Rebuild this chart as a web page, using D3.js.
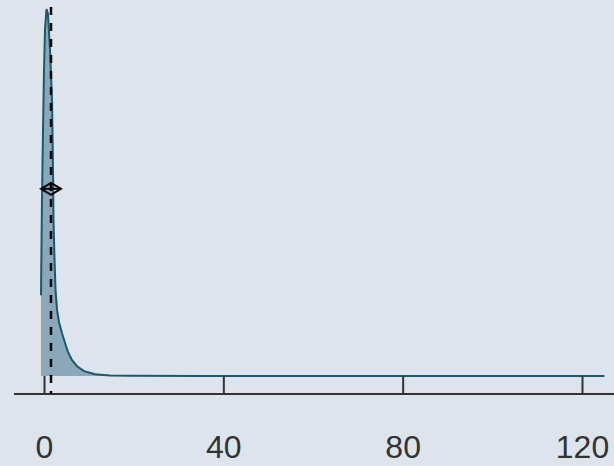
<!DOCTYPE html>
<html>
<head>
<meta charset="utf-8">
<script src="https://cdn.jsdelivr.net/npm/d3@7"></script>
<style>
  body { margin: 0; background: #dde4eb; overflow: hidden; }
  svg { display: block; }
</style>
</head>
<body>
<script>
// kernel density estimate
var xs = [-0.67, -0.45, -0.22, 0.0, 0.22, 0.56, 0.89, 1.34, 1.79, 2.01, 2.12, 2.35, 2.57, 2.91, 3.35, 4.02, 4.69, 5.36, 6.26, 7.37, 8.94, 11.4, 14.7, 19.2, 35, 125];
var dens = [0.132, 0.288, 0.402, 0.500, 0.566, 0.600, 0.592, 0.533, 0.451, 0.337, 0.255, 0.190, 0.141, 0.108, 0.088, 0.070, 0.054, 0.039, 0.026, 0.016, 0.008, 0.003, 0.001, 0.0005, 0.0002, 0];
var meanValue = 1.56;
var meanMarkerY = 0.306;
var ticks = [0, 40, 80, 120];

var width = 614, height = 466;
var svg = d3.select("body").append("svg")
    .attr("width", width)
    .attr("height", height);

svg.append("rect").attr("width", width).attr("height", height).attr("fill", "#dde4eb");

var x = d3.scaleLinear().domain([0, 120]).range([44, 582]);
var y = d3.scaleLinear().domain([0, 0.6]).range([376, 9]);

var pts = xs.map(function(d, i) { return {x: d, y: dens[i]}; });

var area = d3.area()
    .x(function(d) { return x(d.x); })
    .y0(y(0))
    .y1(function(d) { return y(d.y); });
var line = d3.line()
    .x(function(d) { return x(d.x); })
    .y(function(d) { return y(d.y); });

svg.append("path").datum(pts)
    .attr("d", area)
    .attr("fill", "#8aa8ba");

svg.append("path").datum(pts)
    .attr("d", line)
    .attr("fill", "none")
    .attr("stroke", "#175a72")
    .attr("stroke-width", 2);

// x axis
var axisY = 394;
var xaxis = d3.axisBottom(x).tickValues(ticks).tickSize(0).tickPadding(0).tickFormat(d3.format("d"));
var g = svg.append("g").attr("transform", "translate(0," + axisY + ")").call(xaxis);
g.select(".domain").remove();
g.selectAll(".tick text")
    .attr("y", 64)
    .attr("dy", 0)
    .attr("fill", "#333")
    .style("font-family", "'Liberation Sans', Arial, sans-serif")
    .style("font-size", "32px");
g.selectAll(".tick").append("line")
    .attr("y1", -18).attr("y2", 0)
    .attr("stroke", "#333").attr("stroke-width", 2);
svg.append("line")
    .attr("x1", 14).attr("x2", 614)
    .attr("y1", axisY).attr("y2", axisY)
    .attr("stroke", "#333").attr("stroke-width", 2);

// mean line
svg.append("line")
    .attr("x1", x(meanValue)).attr("x2", x(meanValue))
    .attr("y1", 7).attr("y2", axisY)
    .attr("stroke", "#000").attr("stroke-width", 2.5)
    .attr("stroke-dasharray", "8,8");

// mean marker
var mx = x(meanValue), my = y(meanMarkerY);
svg.append("path")
    .attr("d", "M" + (mx - 10) + "," + my + "L" + mx + "," + (my - 6) + "L" + (mx + 10) + "," + my + "L" + mx + "," + (my + 6) + "Z")
    .attr("fill", "none").attr("stroke", "#000").attr("stroke-width", 2);
svg.append("line")
    .attr("x1", mx - 10).attr("x2", mx + 10)
    .attr("y1", my).attr("y2", my)
    .attr("stroke", "#000").attr("stroke-width", 2);
</script>
</body>
</html>
